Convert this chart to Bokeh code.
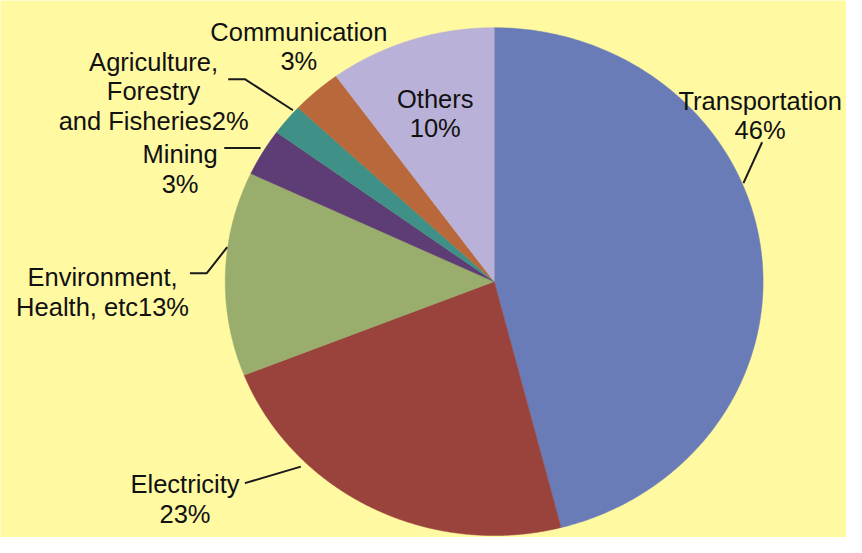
import numpy as np
from bokeh.plotting import figure
from bokeh.models import Range1d, ColumnDataSource
from bokeh.core.properties import value
from bokeh.embed import file_html
from bokeh.resources import INLINE

# ---- data ----
categories = ["Transportation", "Electricity", "Environment,\nHealth, etc", "Mining",
              "Agriculture,\nForestry\nand Fisheries", "Communication", "Others"]
shares = [46, 23, 13, 3, 2, 3, 10]
label_sep = ["\n", "\n", "", "\n", "", "\n", "\n"]
colors = ["#6A7CB7", "#9A423C", "#99AD6D", "#5E3C75", "#3F9187", "#B8683B", "#B9B1D7"]

# ---- layout (positions in reference-picture coordinates, 862 x 553) ----
BG = "#FFF9A2"
cx, cy, rx, ry = 503.0, 289.5, 274.0, 261.5
# label anchor: x centre, baseline of first line
label_pos = [(774, 103), (188, 498), (104, 285), (183, 158), (156, 63), (304, 32), (443, 101)]
line_h = 30.5
leaders = [
    [(757, 188), (776, 146)],
    [(249, 497), (306, 480)],
    [(193, 281), (210, 281), (231, 254)],
    [(228, 152), (265, 152)],
    [(232, 81), (249, 81), (298, 113)],
    [],
    [],
]

W, H = 846, 537
p = figure(width=W, height=H, output_backend="svg", toolbar_location=None,
           x_range=Range1d(0, 862), y_range=Range1d(553, 0),
           min_border=0, background_fill_color=BG, border_fill_color=BG)
p.axis.visible = False
p.grid.visible = False
p.outline_line_color = None

total = float(sum(shares))
cum = np.concatenate([[0.0], np.cumsum(shares)]) / total * 2 * np.pi
xs, ys = [], []
for i in range(len(shares)):
    t = np.linspace(cum[i], cum[i + 1], 200)
    px = np.concatenate([[cx], cx + rx * np.sin(t)])
    py = np.concatenate([[cy], cy - ry * np.cos(t)])
    xs.append(px.tolist())
    ys.append(py.tolist())
src = ColumnDataSource(dict(xs=xs, ys=ys, color=colors,
                            name=[c.replace("\n", " ") for c in categories], share=shares))
p.patches("xs", "ys", source=src, fill_color="color", line_color="color", line_width=0.5)

for pts in leaders:
    if pts:
        p.line([q[0] for q in pts], [q[1] for q in pts], line_color="#1a1a1a", line_width=2)

tx, ty, tt = [], [], []
for i, cat in enumerate(categories):
    text = f"{cat}{label_sep[i]}{shares[i]}%"
    x0, y0 = label_pos[i]
    for j, ln in enumerate(text.split("\n")):
        tx.append(x0)
        ty.append(y0 + j * line_h)
        tt.append(ln)
p.text(tx, ty, text=tt, text_align="center", text_baseline="alphabetic",
       text_font=value("Liberation Sans"), text_font_size="25.5px", text_color="#111111")

html = file_html(p, INLINE)
html = html.replace("<body>", f'<body style="background-color:{BG};">', 1)
open("out.html", "w").write(html)
